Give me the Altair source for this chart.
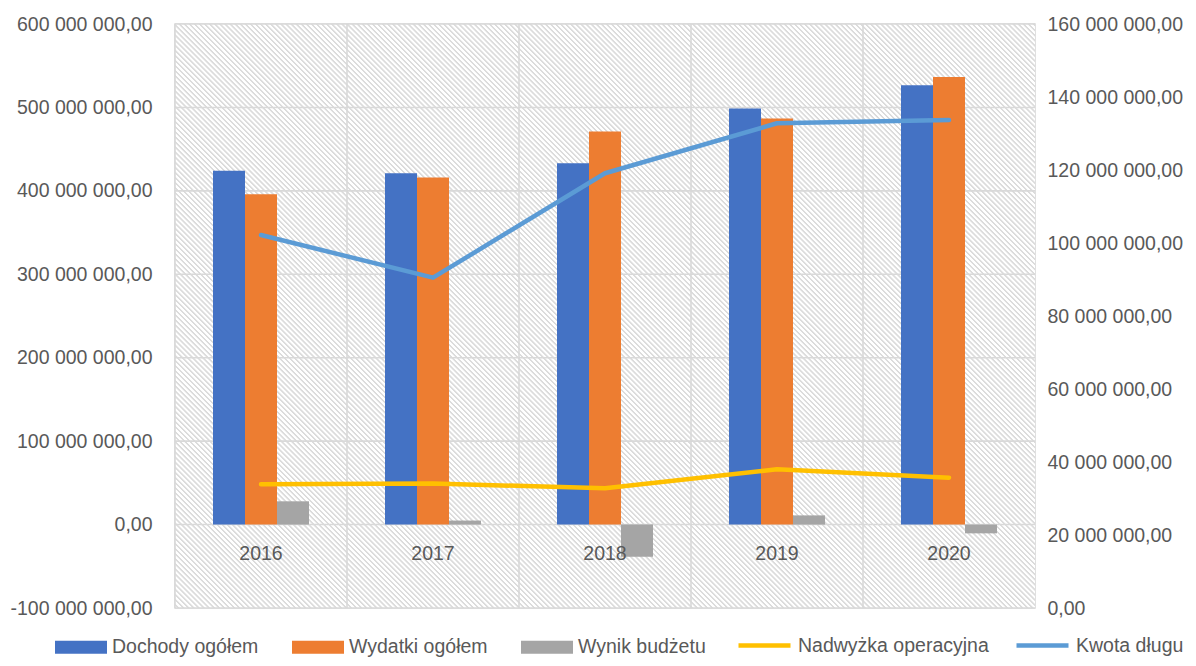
import altair as alt
import pandas as pd

# ---- data ----
years = ["2016", "2017", "2018", "2019", "2020"]
bar_series = ["Dochody ogółem", "Wydatki ogółem", "Wynik budżetu"]
line_series = ["Nadwyżka operacyjna", "Kwota długu"]

dochody = [424.0e6, 421.0e6, 433.0e6, 498.6e6, 526.6e6]
wydatki = [396.0e6, 416.0e6, 471.0e6, 486.6e6, 536.6e6]
wynik = [27.9e6, 4.8e6, -38.5e6, 11.0e6, -10.5e6]
nadwyzka = [33.9e6, 34.1e6, 32.8e6, 38.0e6, 35.7e6]
kwota = [102.2e6, 90.5e6, 119.1e6, 132.8e6, 133.7e6]

left_ticks = [-100e6, 0, 100e6, 200e6, 300e6, 400e6, 500e6, 600e6]
right_ticks = [0, 20e6, 40e6, 60e6, 80e6, 100e6, 120e6, 140e6, 160e6]

bar_colors = ["#4472C4", "#ED7D31", "#A5A5A5"]
line_colors = ["#FFC000", "#5B9BD5"]

# ---- layout / style ----
W, H = 860, 584
BAND = W / len(years)
GROUP = 96
FONT = "Liberation Sans"
FS = 19.5
TXT = "#595959"
GRID = "#D9D9D9"
SYM = 52  # legend symbol width in px

bars_df = pd.DataFrame(
    [{"year": y, "series": s, "value": v}
     for s, vals in zip(bar_series, [dochody, wydatki, wynik])
     for y, v in zip(years, vals)]
)
lines_df = pd.DataFrame(
    [{"year": y, "series": s, "value": v}
     for s, vals in zip(line_series, [nadwyzka, kwota])
     for y, v in zip(years, vals)]
)
hgrid_df = pd.DataFrame({"value": left_ticks})
vgrid_df = pd.DataFrame({"year": years})

# hatched background as a striped linear gradient (stripes running "\" at 45°)
diag = (W + H) / 2 ** 0.5
n_stripes = int(round(diag / 3.6))
stops = []
for k in range(n_stripes):
    b = k / n_stripes
    u = 1.0 / n_stripes
    stops += [
        alt.GradientStop(color="#FFFFFF", offset=round(b, 6)),
        alt.GradientStop(color="#FFFFFF", offset=round(b + 0.40 * u, 6)),
        alt.GradientStop(color="#DCDCDC", offset=round(b + 0.55 * u, 6)),
        alt.GradientStop(color="#DCDCDC", offset=round(b + 0.85 * u, 6)),
    ]
stops.append(alt.GradientStop(color="#FFFFFF", offset=1.0))
r = H / W
scale_len = (1 + r) / (1 + r * r)
hatch = alt.LinearGradient(
    gradient="linear", stops=stops,
    x1=0, y1=1, x2=round(scale_len, 5), y2=round(1 - r * scale_len, 5),
)

fmt = ("replace(replace(replace(format(datum.value, ',.2f'), regexp(',', 'g'), ' '),"
       " '.', ','), '\u2212', '-')")

x_scale = alt.Scale(domain=years, paddingInner=0, paddingOuter=0)
x_axis = alt.Axis(orient="bottom", offset=-83.4, domain=False, ticks=False, tickSize=0,
                  grid=False, labelAngle=0, labelPadding=19.5, labelFontSize=FS,
                  labelFont=FONT, labelColor=TXT, title=None, zindex=2)
yl_scale = alt.Scale(domain=[-100e6, 600e6], nice=False, zero=False)
yl_axis = alt.Axis(values=left_ticks, labelExpr=fmt, grid=False, domain=False, ticks=False,
                   tickSize=0, labelPadding=23, labelFontSize=FS, labelFont=FONT,
                   labelColor=TXT, title=None)
yr_scale = alt.Scale(domain=[0, 160e6], nice=False, zero=False)
yr_axis = alt.Axis(orient="right", values=right_ticks, labelExpr=fmt, grid=False,
                   domain=False, ticks=False, tickSize=0, labelPadding=12,
                   labelFontSize=FS, labelFont=FONT, labelColor=TXT, title=None)

background = alt.Chart(pd.DataFrame({"k": [0]})).mark_rect(fill=hatch, strokeWidth=0).encode(
    x=alt.value(0), x2=alt.value(W), y=alt.value(0), y2=alt.value(H)
)

hgrid = alt.Chart(hgrid_df).mark_rule(color=GRID, strokeWidth=1.6).encode(
    y=alt.Y("value:Q", scale=yl_scale, axis=yl_axis)
)
vgrid = alt.Chart(vgrid_df).mark_rule(color=GRID, strokeWidth=1.6).encode(
    x=alt.X("year:N", scale=x_scale, axis=x_axis, bandPosition=0)
)

legend_common = dict(orient="none", direction="horizontal", title=None,
                     symbolSize=SYM * SYM, labelFont=FONT, labelFontSize=FS,
                     labelColor=TXT, labelOffset=5, padding=0, labelLimit=400)

bars = alt.Chart(bars_df).mark_bar().encode(
    x=alt.X("year:N", scale=x_scale, axis=x_axis),
    xOffset=alt.XOffset("series:N", sort=bar_series,
                        scale=alt.Scale(domain=bar_series, paddingInner=0, paddingOuter=0,
                                        range=[(BAND - GROUP) / 2, (BAND + GROUP) / 2])),
    y=alt.Y("value:Q", scale=yl_scale, axis=yl_axis),
    fill=alt.Fill("series:N", sort=bar_series,
                  scale=alt.Scale(domain=bar_series, range=bar_colors),
                  legend=alt.Legend(legendX=-120, legendY=597,
                                    symbolType="M-1,-0.25H1V0.25H-1Z",
                                    symbolStrokeWidth=0, symbolOpacity=1,
                                    columnPadding=33, **legend_common)),
)

inner = alt.layer(background, hgrid, vgrid, bars)

lines = alt.Chart(lines_df).mark_line(strokeWidth=4.5, strokeCap="round", strokeJoin="round").encode(
    x=alt.X("year:N", scale=x_scale, axis=x_axis),
    y=alt.Y("value:Q", scale=yr_scale, axis=yr_axis),
    stroke=alt.Stroke("series:N", sort=line_series,
                      scale=alt.Scale(domain=line_series, range=line_colors),
                      legend=alt.Legend(legendX=561, legendY=593, symbolType="stroke",
                                        symbolStrokeWidth=4.5, columnPadding=18,
                                        **legend_common)),
)

chart = (
    alt.layer(inner, lines)
    .resolve_scale(y="independent")
    .properties(
        width=W, height=H,
        autosize=alt.AutoSizeParams(type="none"),
        padding={"left": 167, "top": 16, "right": 153, "bottom": 50},
        background="#FFFFFF",
    )
    .configure_view(stroke=GRID, strokeWidth=1.6)
)

chart.save("out.html", embed_options={"renderer": "svg", "actions": False})
